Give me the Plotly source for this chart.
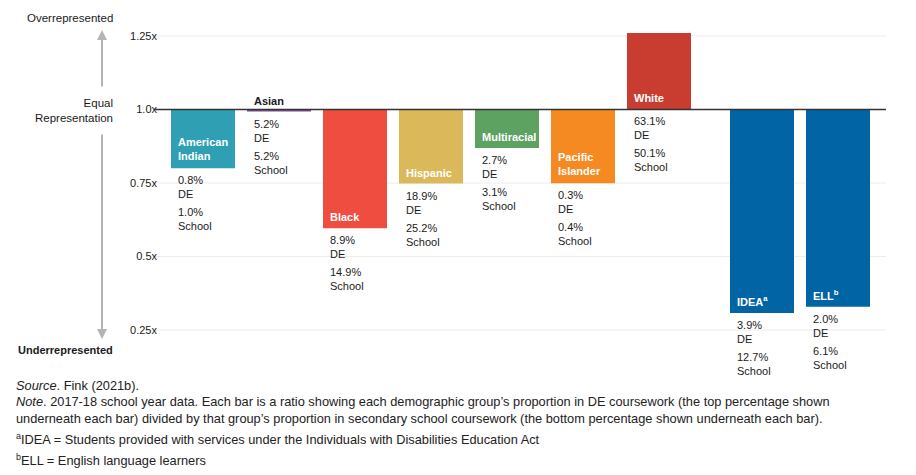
import plotly.graph_objects as go

# groups (main block) and special populations (second block)
groups = ["American Indian", "Asian", "Black", "Hispanic", "Multiracial", "Pacific Islander", "White"]
group_labels = ["American<br>Indian", "Asian", "Black", "Hispanic", "Multiracial", "Pacific<br>Islander", "White"]
ratio = [0.80, 0.993, 0.596, 0.748, 0.869, 0.749, 1.26]
de_pct = ["0.8%", "5.2%", "8.9%", "18.9%", "2.7%", "0.3%", "63.1%"]
school_pct = ["1.0%", "5.2%", "14.9%", "25.2%", "3.1%", "0.4%", "50.1%"]
colors = ["#2f9fb4", "#7b4c8c", "#ef4d40", "#dbb95a", "#5ea262", "#f58a22", "#c93d31"]

special = ["IDEA", "ELL"]
special_labels = ["IDEA<sup>a</sup>", "ELL<sup>b</sup>"]
special_ratio = [0.308, 0.329]
special_de = ["3.9%", "2.0%"]
special_school = ["12.7%", "6.1%"]
special_colors = ["#0064a5", "#0064a5"]

tick_vals = [0.25, 0.5, 0.75, 1.0, 1.25]
tick_text = ["0.25x", "0.5x", "0.75x", "1.0x", "1.25x"]

FONT = "Liberation Sans"
INK = "#1a1a1a"

# plot area in window pixels; the page body adds an 8px margin
PAGE = 8
L, R, T, B = 154, 886, 33, 333


def px_x(px):
    return (px - L) / (R - L)


def px_y(py):
    return (B - py) / (B - T)


fig = go.Figure()

fig.add_trace(go.Bar(
    x=groups, y=[r - 1 for r in ratio], base=1.0,
    marker=dict(color=colors, line=dict(width=0)),
    xaxis="x", yaxis="y", hoverinfo="skip", showlegend=False,
))
fig.add_trace(go.Bar(
    x=special, y=[r - 1 for r in special_ratio], base=1.0,
    marker=dict(color=special_colors, line=dict(width=0)),
    xaxis="x2", yaxis="y", hoverinfo="skip", showlegend=False,
))

annotations = []


def label_bars(cats, labels, vals, de, sch, xref):
    for c, lab, v, d, s in zip(cats, labels, vals, de, sch):
        end = min(v, 1.0)
        thin = abs(v - 1.0) < 0.05
        two_lines = "<br>" in lab
        annotations.append(dict(
            x=c, y=end, xref=xref, yref="y", text="<b>" + lab + "</b>",
            showarrow=False, xanchor="left", yanchor="bottom", align="left",
            xshift=-27, yshift=4 if two_lines else 3,
            font=dict(family=FONT, size=11, color=INK if thin else "white"),
        ))
        annotations.append(dict(
            x=c, y=end, xref=xref, yref="y", text=d + "<br>DE",
            showarrow=False, xanchor="left", yanchor="top", align="left",
            xshift=-27, yshift=-4, font=dict(family=FONT, size=11, color=INK),
        ))
        annotations.append(dict(
            x=c, y=end, xref=xref, yref="y", text=s + "<br>School",
            showarrow=False, xanchor="left", yanchor="top", align="left",
            xshift=-27, yshift=-36, font=dict(family=FONT, size=11, color=INK),
        ))


label_bars(groups, group_labels, ratio, de_pct, school_pct, "x")
label_bars(special, special_labels, special_ratio, special_de, special_school, "x2")

# left side direction labels and arrows
side = dict(xref="paper", yref="paper", showarrow=False, xanchor="right",
            yanchor="middle", align="right")
annotations.append(dict(side, x=px_x(115), y=px_y(18), text="Overrepresented",
                        font=dict(family=FONT, size=11.5, color=INK)))
annotations.append(dict(side, x=px_x(115), y=px_y(110), text="Equal<br>Representation",
                        font=dict(family=FONT, size=11.5, color=INK)))
annotations.append(dict(side, x=px_x(115), y=px_y(350), text="<b>Underrepresented</b>",
                        font=dict(family=FONT, size=11, color=INK)))
arrow = dict(xref="paper", yref="paper", text="", showarrow=True, arrowhead=2,
             arrowsize=1, arrowwidth=2, arrowcolor="#b4b4b4", ax=0)
annotations.append(dict(arrow, x=px_x(102), y=px_y(30), ay=58))
annotations.append(dict(arrow, x=px_x(102), y=px_y(339), ay=-206))

# footnotes
foot = dict(xref="paper", yref="paper", showarrow=False, xanchor="left",
            yanchor="middle", align="left", x=px_x(14),
            font=dict(family=FONT, size=12.8, color="#222222"))
annotations.append(dict(foot, y=px_y(385), text="<i>Source</i>. Fink (2021b)."))
annotations.append(dict(foot, y=px_y(410), text=(
    "<i>Note</i>. 2017-18 school year data. Each bar is a ratio showing each demographic group\u2019s "
    "proportion in DE coursework (the top percentage shown<br>underneath each bar) divided by that "
    "group\u2019s proportion in secondary school coursework (the bottom percentage shown underneath each bar).")))
annotations.append(dict(foot, y=px_y(439), text=(
    "<sup>a</sup>IDEA = Students provided with services under the Individuals with Disabilities Education Act")))
annotations.append(dict(foot, y=px_y(460), text="<sup>b</sup>ELL = English language learners"))

# gridlines across both blocks, and the 1.0x baseline
shapes = []
for tv in tick_vals:
    if tv == 1.0:
        continue
    shapes.append(dict(type="line", xref="paper", yref="y", x0=0, x1=1, y0=tv, y1=tv,
                       line=dict(color="#ececec", width=1), layer="below"))
shapes.append(dict(type="line", xref="paper", yref="y", x0=0, x1=1, y0=1.0, y1=1.0,
                   line=dict(color="#333333", width=1.5), layer="above"))

fig.update_layout(
    width=916 - PAGE, height=475 - PAGE,
    margin=dict(l=L - PAGE, r=916 - R, t=T - PAGE, b=475 - B),
    plot_bgcolor="white", paper_bgcolor="white",
    bargap=0.158,
    xaxis=dict(domain=[px_x(165), px_x(697)], showticklabels=False, showgrid=False,
               zeroline=False, fixedrange=True),
    xaxis2=dict(domain=[px_x(724), px_x(876)], anchor="y", showticklabels=False,
                showgrid=False, zeroline=False, fixedrange=True),
    yaxis=dict(range=[0.24, 1.26], tickvals=tick_vals, ticktext=tick_text,
               showgrid=False, zeroline=False, ticks="", ticklabelstandoff=7,
               tickfont=dict(family=FONT, size=11, color=INK), fixedrange=True),
    annotations=annotations,
    shapes=shapes,
    font=dict(family=FONT, color=INK),
)

fig.write_html("out.html")
